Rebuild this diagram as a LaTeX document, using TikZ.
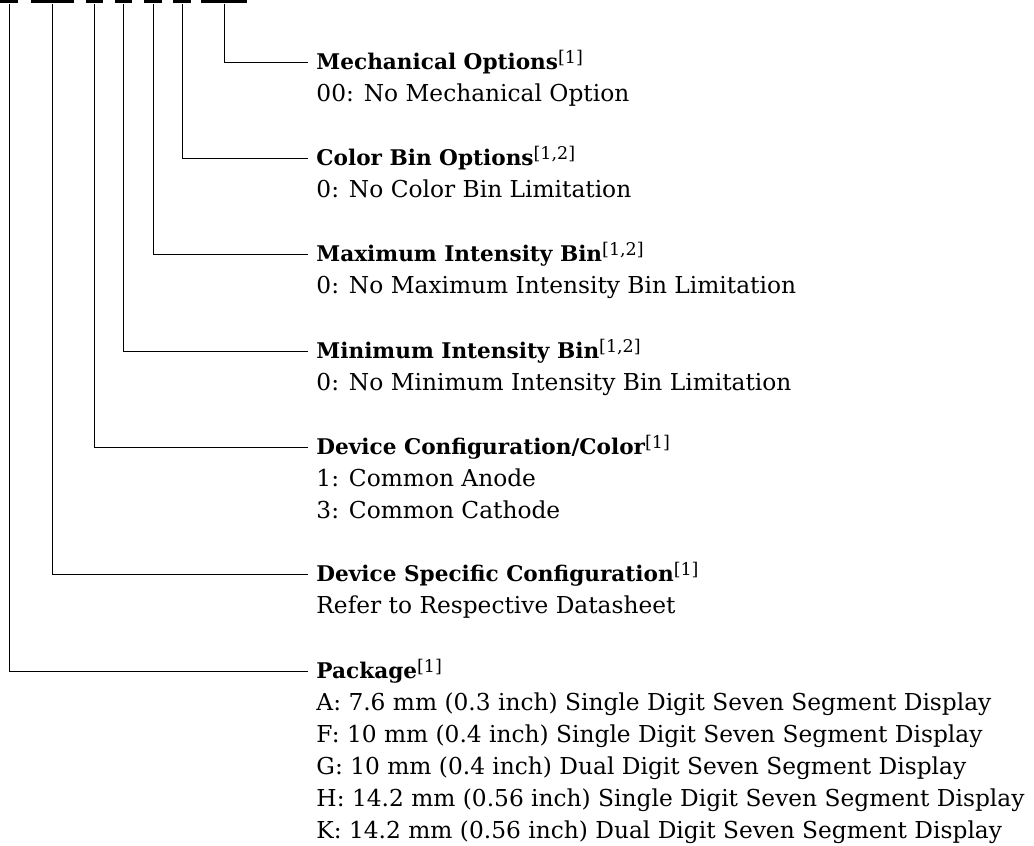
\documentclass[tikz,border=0pt]{standalone}
\usepackage{fontspec}
\setmainfont{DejaVu Serif}
\usetikzlibrary{calc}
\newcommand\hfont{\fontsize{21.6}{24}\selectfont}
\newcommand\ifont{\fontsize{23.3}{26}\selectfont}
\newcommand\refmark[1]{\raisebox{6pt}{\fontsize{17.5}{18}\selectfont\mdseries[#1]}}
\begin{document}
\begin{tikzpicture}[x=1pt,y=-1pt, line width=0.9pt,
  bar/.style={fill=black, inner sep=0pt, minimum height=2.8pt, anchor=north},
  head/.style={anchor=base west, inner sep=0pt, font=\hfont\bfseries},
  item/.style={anchor=base west, inner sep=0pt, font=\ifont}]
\useasboundingbox (0,0) rectangle (1034,846);
% bars of the part number
\node[bar, minimum width=18pt] (b1) at (9,0) {};
\node[bar, minimum width=43pt] (b2) at (52.5,0) {};
\node[bar, minimum width=17pt] (b3) at (94.5,0) {};
\node[bar, minimum width=17pt] (b4) at (123.5,0) {};
\node[bar, minimum width=18pt] (b5) at (153,0) {};
\node[bar, minimum width=18pt] (b6) at (182,0) {};
\node[bar, minimum width=46pt] (b7) at (224,0) {};
% line ends
\coordinate (c7) at (308,62);
\coordinate (c6) at (308,158);
\coordinate (c5) at (308,254);
\coordinate (c4) at (308,351);
\coordinate (c3) at (308,447);
\coordinate (c2) at (308,574);
\coordinate (c1) at (308,671);
\foreach \i in {1,...,7} { \draw (b\i.south) |- (c\i); }
% texts
\node[head] (h7) at ($(c7)+(8,7)$) {Mechanical Options\refmark{1}};
\node[item] (t7a) at ($(c7)+(8,39)$) {00: No Mechanical Option};
\node[head] (h6) at ($(c6)+(8,7)$) {Color Bin Options\refmark{1,2}};
\node[item] (t6a) at ($(c6)+(8,39)$) {0: No Color Bin Limitation};
\node[head] (h5) at ($(c5)+(8,7)$) {Maximum Intensity Bin\refmark{1,2}};
\node[item] (t5a) at ($(c5)+(8,39)$) {0: No Maximum Intensity Bin Limitation};
\node[head] (h4) at ($(c4)+(8,7)$) {Minimum Intensity Bin\refmark{1,2}};
\node[item] (t4a) at ($(c4)+(8,39)$) {0: No Minimum Intensity Bin Limitation};
\node[head] (h3) at ($(c3)+(8,7)$) {Device Configuration/Color\refmark{1}};
\node[item] (t3a) at ($(c3)+(8,39)$) {1: Common Anode};
\node[item] (t3b) at ($(c3)+(8,71)$) {3: Common Cathode};
\node[head] (h2) at ($(c2)+(8,7)$) {Device Specific Configuration\refmark{1}};
\node[item] (t2a) at ($(c2)+(8,39)$) {Refer to Respective Datasheet};
\node[head] (h1) at ($(c1)+(8,7)$) {Package\refmark{1}};
\node[item] (t1a) at ($(c1)+(8,39)$) {A: 7.6 mm (0.3 inch) Single Digit Seven Segment Display};
\node[item] (t1b) at ($(c1)+(8,71)$) {F: 10 mm (0.4 inch) Single Digit Seven Segment Display};
\node[item] (t1c) at ($(c1)+(8,103)$) {G: 10 mm (0.4 inch) Dual Digit Seven Segment Display};
\node[item] (t1d) at ($(c1)+(8,135)$) {H: 14.2 mm (0.56 inch) Single Digit Seven Segment Display};
\node[item] (t1e) at ($(c1)+(8,167)$) {K: 14.2 mm (0.56 inch) Dual Digit Seven Segment Display};
\end{tikzpicture}
\end{document}
